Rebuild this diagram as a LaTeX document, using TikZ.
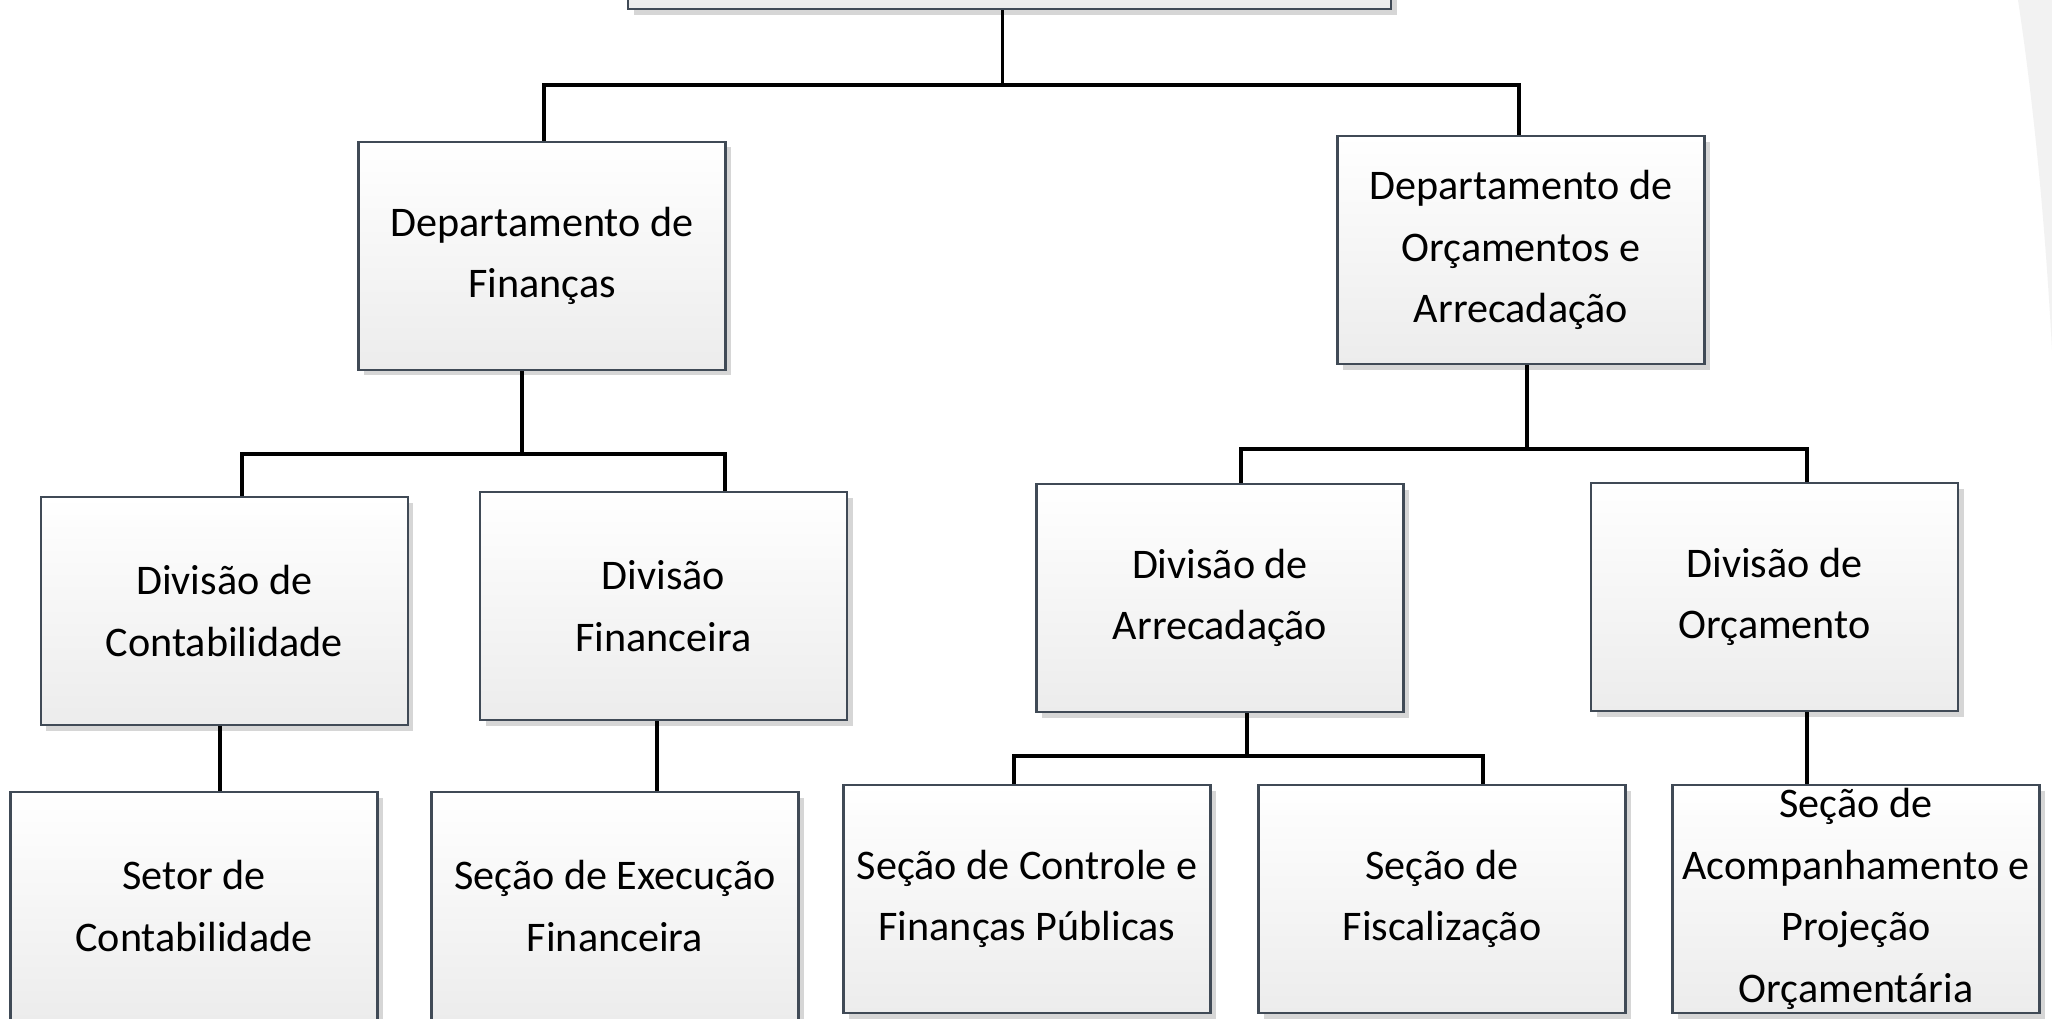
\documentclass[tikz,border=0pt]{standalone}
\usepackage{fontspec}
\setmainfont{Carlito}
\usepackage{tikz}
\usetikzlibrary{positioning,calc,shadows}
\usepackage{xcolor}
\definecolor{boxline}{HTML}{404A56}
\definecolor{boxbot}{HTML}{ECECEC}
\definecolor{shade}{HTML}{D6D6D6}
\definecolor{backdrop}{HTML}{F2F2F2}

\begin{document}
\begin{tikzpicture}[
    unit/.style={draw=boxline,line width=0.6pt,top color=white,bottom color=boxbot,
      minimum width=3.67cm,minimum height=2.28cm,inner sep=0pt,align=center,
      font=\fontsize{12}{17.5}\selectfont,
      drop shadow={shadow xshift=0.55mm,shadow yshift=-0.55mm,fill=shade,opacity=1}},
    link/.style={black,line width=1pt}
  ]
  \useasboundingbox (0,0) rectangle (20.52,-10.18);
  \clip (0,0) rectangle (20.52,-10.18);

  % Backdrop
  \fill[backdrop] (20.18,0) .. controls (20.36,-1.2) and (20.46,-2.4) .. (20.52,-3.5) -- (20.52,0) -- cycle;

  % Top unit (cut off)
  \node[unit,minimum width=7.63cm] (top) at (10.095,1.05) {};

  % Departments
  \node[unit] (dfin) at (5.42,-2.557) {Departamento de\\Finanças};
  \node[unit] (dorc) at (15.21,-2.50) {Departamento de\\Orçamentos e\\Arrecadação};

  % Divisions
  \node[unit] (dcont) at (2.243,-6.11) {Divisão de\\Contabilidade};
  \node[unit] (dfinc) at (6.635,-6.06) {Divisão\\Financeira};
  \node[unit] (darr) at (12.20,-5.98) {Divisão de\\Arrecadação};
  \node[unit] (dorcm) at (17.745,-5.97) {Divisão de\\Orçamento};

  % Sections
  \node[unit] (setor) at (1.94,-9.06) {Setor de\\Contabilidade};
  \node[unit] (exec) at (6.15,-9.06) {Seção de Execução\\Financeira};
  \node[unit] (ctrl) at (10.27,-8.99) {Seção de Controle e\\Finanças Públicas};
  \node[unit] (fisc) at (14.42,-8.99) {Seção de\\Fiscalização};
  \node[unit] (acomp) at (18.56,-8.99) {Seção de\\Acompanhamento e\\Projeção\\Orçamentária};

  % Junctions
  \coordinate (tj) at (10.025,-0.85);
  \coordinate (tl) at (5.44,-0.85);
  \coordinate (tr) at (15.19,-0.85);
  \coordinate (fj) at (5.22,-4.54);
  \coordinate (fl) at (2.42,-4.54);
  \coordinate (fr) at (7.25,-4.54);
  \coordinate (oj) at (15.27,-4.49);
  \coordinate (ol) at (12.41,-4.49);
  \coordinate (or) at (18.07,-4.49);
  \coordinate (aj) at (12.47,-7.56);
  \coordinate (al) at (10.14,-7.56);
  \coordinate (ar) at (14.83,-7.56);

  % Connectors
  \draw[link] (top.south -| tj) -- (tj);
  \draw[link] (dfin.north -| tl) -- (tl) -- (tr) -- (dorc.north -| tr);
  \draw[link] (dfin.south -| fj) -- (fj);
  \draw[link] (dcont.north -| fl) -- (fl) -- (fr) -- (dfinc.north -| fr);
  \draw[link] (dorc.south -| oj) -- (oj);
  \draw[link] (darr.north -| ol) -- (ol) -- (or) -- (dorcm.north -| or);
  \draw[link] (darr.south -| aj) -- (aj);
  \draw[link] (ctrl.north -| al) -- (al) -- (ar) -- (fisc.north -| ar);
  \draw[link] (dcont.south -| 2.20,0) -- (setor.north -| 2.20,0);
  \draw[link] (dfinc.south -| 6.57,0) -- (exec.north -| 6.57,0);
  \draw[link] (dorcm.south -| or) -- (acomp.north -| or);
\end{tikzpicture}
\end{document}
